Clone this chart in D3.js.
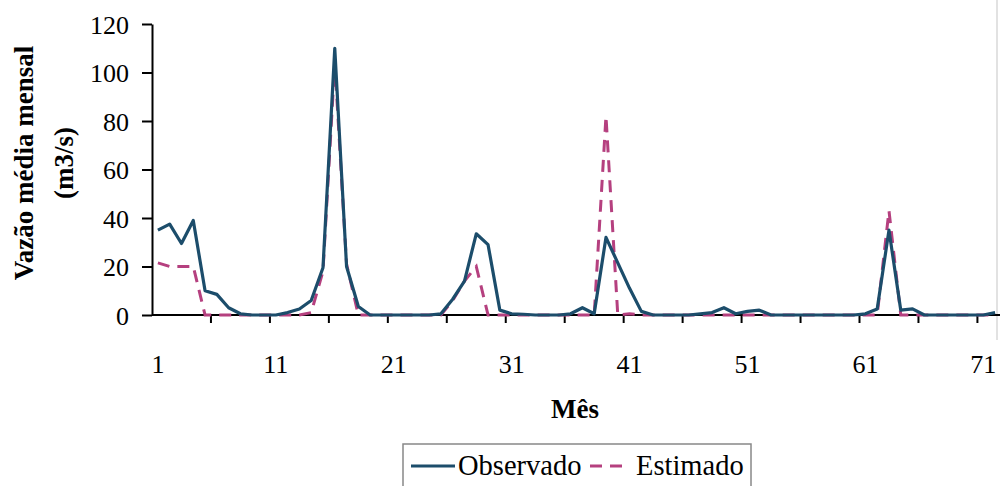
<!DOCTYPE html>
<html>
<head>
<meta charset="UTF-8">
<title>Vazão média mensal</title>
<script src="https://cdn.jsdelivr.net/npm/d3@7"></script>
<style>
	body { margin: 0; background: #fff; }
	svg text { font-family: 'Liberation Serif', 'DejaVu Serif', 'Times New Roman', Times, serif; fill: #000; }
	.axis path, .axis line { stroke: #000; stroke-width: 2px; }
	.axis text { font-size: 26px; }
	.title { font-size: 27px; font-weight: bold; }
	.legend text { font-size: 28.5px; }
</style>
</head>
<body>
<svg id="chart" width="1000" height="486"></svg>
<script>
	// months 1..72
	const months = d3.range(1, 73);
	const observado = [
		35, 37.5, 29.5, 39, 10, 8.5, 3, 0.5, 0, 0,
		0, 1, 2.5, 6, 19.5, 110, 20, 3.5, 0, 0,
		0, 0, 0, 0, 0.5, 6.5, 14, 33.5, 29, 2,
		0.5, 0.3, 0, 0, 0, 0.5, 3, 0.5, 32, 21.5,
		11, 1.5, 0, 0, 0, 0, 0.5, 1, 3, 0.5,
		1.5, 2, 0, 0, 0, 0, 0, 0, 0, 0,
		0.5, 2.5, 35, 2, 2.5, 0, 0, 0, 0, 0,
		0, 1
	];
	const estimado = [
		21.5, 20, 20, 20, 0, 0, 0, 0, 0, 0,
		0, 0, 0, 1, 18, 104, 21, 0, 0, 0,
		0, 0, 0, 0, 0, 6, 14, 20, 0, 0,
		0, 0, 0, 0, 0, 0, 0, 0, 82, 0,
		0.5, 0, 0, 0, 0, 0, 0, 0, 0, 0,
		0, 0, 0, 0, 0, 0, 0, 0, 0, 0,
		0, 0, 43, 0, 0, 0, 0, 0, 0, 0,
		0, 0
	];
	const xLabels = [1, 11, 21, 31, 41, 51, 61, 71];
	const yTicks = [0, 20, 40, 60, 80, 100, 120];

	const svg = d3.select('#chart');

	const x = d3.scaleBand().domain(months).range([152, 1001]).padding(0);
	const y = d3.scaleLinear().domain([0, 120]).range([315, 24]);
	const cx = m => x(m) + x.bandwidth() / 2;

	// frame line on the right (cut border of the figure)
	svg.append('line')
		.attr('x1', 997).attr('x2', 997).attr('y1', 0).attr('y2', 340)
		.attr('stroke', '#d8d8d8').attr('stroke-width', 1.5);

	// y axis
	const ya = svg.append('g')
		.attr('class', 'axis')
		.attr('transform', 'translate(152,0)')
		.call(d3.axisLeft(y).tickValues(yTicks).tickSize(10).tickPadding(13).tickSizeOuter(0));
	ya.attr('font-family', null).attr('font-size', null);
	ya.selectAll('text').attr('dy', '0.35em');

	// x axis: labels every 10 months, tick marks between categories every 5
	const xg = svg.append('g').attr('class', 'axis');
	xg.append('line')
		.attr('x1', 152).attr('x2', 1001)
		.attr('y1', y(0)).attr('y2', y(0));
	xg.selectAll('.tk')
		.data(months.filter(m => (m - 1) % 5 === 0 && m > 1))
		.enter().append('line')
		.attr('class', 'tk')
		.attr('x1', d => x(d)).attr('x2', d => x(d))
		.attr('y1', y(0)).attr('y2', y(0) + 8);
	xg.selectAll('.lbl')
		.data(xLabels)
		.enter().append('text')
		.attr('class', 'lbl')
		.attr('x', d => cx(d))
		.attr('y', 373)
		.attr('text-anchor', 'middle')
		.text(d => d);

	// series
	const line = d3.line()
		.x((d, i) => cx(months[i]))
		.y(d => y(d));

	svg.append('path')
		.datum(estimado)
		.attr('fill', 'none')
		.attr('stroke', '#b5407f')
		.attr('stroke-width', 3)
		.attr('stroke-dasharray', '12,8')
		.attr('d', line);

	svg.append('path')
		.datum(observado)
		.attr('fill', 'none')
		.attr('stroke', '#1c4d6b')
		.attr('stroke-width', 3.2)
		.attr('stroke-linejoin', 'round')
		.attr('d', line);

	// titles
	svg.append('text')
		.attr('class', 'title')
		.attr('x', 575).attr('y', 418)
		.attr('text-anchor', 'middle')
		.text('Mês');

	const yt = svg.append('g').attr('transform', 'translate(0,163) rotate(-90)');
	yt.append('text')
		.attr('class', 'title')
		.attr('x', 0).attr('y', 33)
		.attr('text-anchor', 'middle')
		.text('Vazão média mensal');
	yt.append('text')
		.attr('class', 'title')
		.attr('x', 0).attr('y', 73)
		.attr('text-anchor', 'middle')
		.text('(m3/s)');

	// legend
	const lg = svg.append('g').attr('class', 'legend');
	lg.append('rect')
		.attr('x', 403).attr('y', 444).attr('width', 348).attr('height', 50)
		.attr('fill', '#fff').attr('stroke', '#888').attr('stroke-width', 1.5);
	lg.append('line')
		.attr('x1', 411).attr('x2', 455).attr('y1', 466).attr('y2', 466)
		.attr('stroke', '#1c4d6b').attr('stroke-width', 3);
	lg.append('text').attr('x', 458).attr('y', 475).text('Observado');
	lg.append('line')
		.attr('x1', 590).attr('x2', 625).attr('y1', 466).attr('y2', 466)
		.attr('stroke', '#b5407f').attr('stroke-width', 3)
		.attr('stroke-dasharray', '12,8');
	lg.append('text').attr('x', 636).attr('y', 475).text('Estimado');
</script>
</body>
</html>
